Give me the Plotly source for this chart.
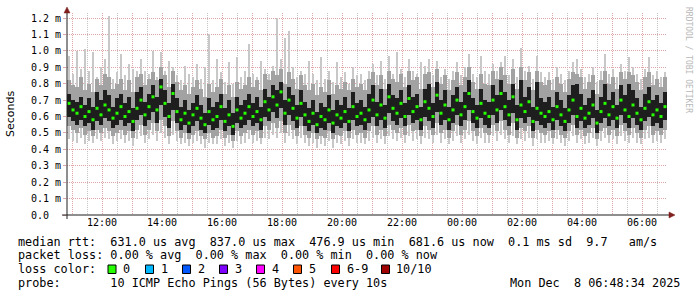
import pandas as pd
import plotly.graph_objects as go

# ---------------- data (values in units of 10 microseconds) ----------------
BIN_START = "2025-12-07 10:50"
BIN_MINUTES = 8

median_10us = [
    68, 64, 62, 66, 60, 63, 58, 65, 61, 67, 64, 59, 62, 66, 60,
    63, 57, 65, 70, 61, 66, 72, 64, 78, 68, 60, 74, 63, 58, 62,
    56, 61, 65, 59, 55, 63, 58, 60, 66, 57, 61, 54, 64, 59, 62,
    66, 60, 63, 58, 69, 64, 72, 67, 75, 62, 70, 65, 59, 68, 61,
    57, 62, 55, 60, 58, 64, 56, 61, 59, 63, 57, 66, 60, 62, 58,
    64, 70, 61, 67, 59, 72, 65, 62, 68, 60, 71, 63, 66, 58, 69,
    65, 60, 73, 62, 67, 58, 64, 70, 61, 66, 74, 63, 59, 68, 62,
    60, 70, 64, 74, 66, 61, 72, 58, 67, 63, 69, 57, 65, 62, 60,
    63, 58, 66, 61, 57, 64, 70, 60, 65, 59, 62, 67, 56, 63, 68,
    61, 66, 59, 70, 64, 60, 67, 62, 58, 65, 69, 61, 64, 60, 66,
]
core_lo_10us = [
    60, 57, 55, 58, 54, 56, 52, 57, 55, 59, 57, 53, 55, 58, 54,
    56, 51, 58, 61, 54, 58, 63, 56, 67, 60, 53, 64, 56, 52, 55,
    50, 54, 57, 52, 50, 55, 52, 53, 58, 51, 54, 49, 56, 53, 55,
    58, 54, 56, 52, 60, 57, 63, 59, 65, 55, 61, 57, 53, 60, 54,
    51, 55, 50, 53, 52, 56, 50, 54, 53, 56, 51, 58, 54, 55, 52,
    56, 60, 54, 58, 53, 62, 57, 55, 59, 54, 61, 56, 58, 52, 60,
    57, 53, 63, 55, 58, 52, 56, 61, 54, 58, 64, 56, 53, 59, 55,
    53, 61, 56, 64, 58, 54, 62, 52, 59, 56, 60, 51, 57, 55, 53,
    56, 52, 58, 54, 51, 56, 61, 53, 57, 53, 55, 59, 50, 56, 59,
    54, 58, 53, 61, 56, 53, 59, 55, 52, 57, 60, 54, 56, 53, 58,
]
core_hi_10us = [
    74, 70, 69, 72, 67, 71, 66, 75, 70, 76, 73, 66, 71, 74, 68,
    72, 65, 75, 78, 69, 74, 79, 72, 83, 76, 68, 80, 71, 66, 70,
    64, 68, 73, 67, 62, 71, 66, 69, 74, 65, 70, 62, 72, 67, 70,
    74, 68, 72, 66, 77, 72, 79, 76, 81, 70, 78, 73, 67, 76, 69,
    65, 70, 63, 68, 66, 73, 64, 70, 67, 72, 65, 75, 68, 70, 66,
    74, 79, 69, 77, 67, 80, 73, 71, 76, 68, 79, 72, 74, 66, 77,
    80, 68, 81, 70, 76, 66, 73, 78, 69, 75, 82, 71, 67, 77, 70,
    69, 79, 73, 82, 75, 70, 80, 67, 82, 72, 78, 66, 81, 71, 69,
    72, 66, 75, 70, 65, 73, 79, 80, 74, 67, 71, 76, 64, 72, 80,
    70, 75, 67, 79, 73, 80, 76, 71, 66, 74, 78, 70, 73, 68, 75,
]
smoke_lo_10us = [
    54, 52, 50, 53, 49, 51, 48, 52, 50, 53, 51, 48, 50, 52, 49,
    51, 47, 52, 55, 49, 52, 56, 51, 58, 54, 48, 57, 51, 47, 50,
    46, 49, 51, 48, 46, 50, 47, 48, 52, 47, 49, 45, 51, 48, 50,
    52, 49, 51, 47, 54, 52, 56, 53, 57, 50, 55, 52, 48, 54, 49,
    47, 50, 46, 48, 47, 51, 46, 49, 48, 51, 47, 52, 49, 50, 47,
    51, 54, 49, 52, 48, 55, 52, 50, 53, 49, 55, 51, 52, 48, 54,
    52, 49, 56, 50, 52, 47, 51, 55, 49, 52, 57, 51, 48, 53, 50,
    49, 55, 51, 57, 52, 49, 56, 47, 53, 51, 54, 47, 52, 50, 49,
    51, 47, 52, 49, 47, 51, 55, 49, 52, 48, 50, 53, 46, 51, 53,
    49, 52, 48, 55, 51, 49, 53, 50, 47, 52, 54, 49, 51, 49, 52,
]
smoke_hi_10us = [
    82, 79, 78, 84, 76, 80, 75, 83, 79, 86, 84, 77, 80, 83, 76,
    82, 75, 84, 86, 79, 83, 87, 82, 90, 85, 78, 88, 81, 76, 79,
    74, 78, 82, 77, 72, 80, 75, 78, 83, 74, 79, 72, 81, 77, 79,
    84, 78, 82, 76, 86, 82, 88, 85, 89, 80, 87, 83, 77, 85, 79,
    76, 80, 73, 78, 75, 82, 74, 79, 77, 81, 76, 83, 78, 80, 76,
    83, 87, 79, 85, 77, 88, 83, 81, 86, 78, 88, 82, 84, 77, 86,
    87, 78, 89, 80, 85, 76, 82, 87, 79, 84, 90, 81, 77, 86, 80,
    79, 88, 83, 90, 85, 80, 89, 77, 90, 82, 87, 76, 88, 81, 79,
    82, 76, 84, 80, 75, 83, 87, 86, 84, 77, 81, 85, 74, 82, 88,
    80, 84, 77, 87, 83, 87, 85, 81, 76, 84, 87, 79, 83, 78, 84,
]
ping_min_10us = [
    46, 45, 44, 47, 43, 45, 44, 46, 45, 47, 46, 43, 45, 46, 44,
    45, 42, 46, 48, 44, 46, 49, 45, 50, 47, 43, 49, 45, 43, 44,
    42, 44, 45, 43, 41, 44, 43, 43, 46, 42, 44, 41, 45, 43, 44,
    46, 44, 45, 43, 47, 46, 49, 47, 50, 44, 48, 46, 43, 47, 44,
    42, 44, 41, 43, 42, 45, 41, 44, 43, 45, 42, 46, 44, 44, 43,
    45, 47, 44, 46, 43, 48, 46, 45, 47, 44, 48, 45, 46, 43, 47,
    46, 44, 49, 44, 46, 43, 45, 48, 44, 46, 49, 45, 43, 47, 44,
    44, 48, 45, 49, 46, 44, 48, 43, 46, 45, 47, 42, 46, 44, 44,
    45, 43, 46, 44, 42, 45, 48, 44, 46, 43, 44, 47, 42, 45, 47,
    44, 46, 43, 48, 45, 44, 47, 44, 43, 46, 47, 44, 45, 44, 46,
]
ping_max_10us = [
    97, 86, 100, 89, 101, 88, 99, 84, 90, 95, 121, 83, 87, 98, 85,
    92, 89, 88, 95, 88, 86, 100, 84, 99, 88, 94, 90, 85, 82, 91,
    86, 84, 92, 83, 90, 110, 82, 95, 87, 81, 93, 80, 96, 84, 88,
    104, 86, 84, 94, 89, 86, 91, 120, 95, 108, 112, 90, 84, 88, 86,
    94, 86, 82, 96, 83, 88, 81, 93, 84, 87, 80, 90, 85, 86, 82,
    88, 92, 85, 94, 83, 97, 86, 99, 89, 84, 95, 88, 86, 93, 91,
    95, 85, 94, 84, 89, 83, 88, 93, 85, 90, 98, 86, 84, 97, 88,
    86, 92, 88, 93, 97, 85, 95, 84, 102, 88, 91, 83, 97, 87, 84,
    87, 83, 90, 86, 82, 88, 93, 95, 89, 84, 86, 90, 81, 88, 98,
    86, 89, 84, 92, 88, 96, 90, 86, 83, 89, 96, 85, 88, 84, 87,
]

y_tick_ms = [0.0, 0.1, 0.2, 0.3, 0.4, 0.5, 0.6, 0.7, 0.8, 0.9, 1.0, 1.1, 1.2]
y_tick_text = ["0.0\u00a0\u00a0", "0.1 m", "0.2 m", "0.3 m", "0.4 m", "0.5 m", "0.6 m",
               "0.7 m", "0.8 m", "0.9 m", "1.0 m", "1.1 m", "1.2 m"]

loss_labels = ["0", "1", "2", "3", "4", "5", "6-9", "10/10"]
loss_colors = ["#26ff00", "#00b8ff", "#0059ff", "#7e00ff", "#ff00ff", "#ff5500", "#ff0000", "#a10000"]

legend_lines = [
    "median rtt:  631.0 us avg  837.0 us max  476.9 us min  681.6 us now  0.1 ms sd  9.7   am/s",
    "packet loss: 0.00 % avg  0.00 % max  0.00 % min  0.00 % now",
    "loss color:",
    "probe:       10 ICMP Echo Pings (56 Bytes) every 10s",
]
stamp_text = "Mon Dec  8 06:48:34 2025"

# ---------------- layout helpers ----------------
W, H = 697, 297
L, R, T, B = 67, 30, 13, 82
PW, PH = W - L - R, H - T - B


def px_x(px):
    return (px - L) / PW


def px_y(py):
    return (H - B - py) / PH


def nb(s):
    return s.replace(" ", "\u00a0")


MONO = "DejaVu Sans Mono"

n = len(median_10us)
t0 = pd.Timestamp(BIN_START)
bin_centers = pd.date_range(t0 + pd.Timedelta(minutes=BIN_MINUTES / 2), periods=n,
                            freq=f"{BIN_MINUTES}min")
bin_ms = BIN_MINUTES * 60 * 1000


def band(lo, hi, color, frac):
    return go.Bar(
        x=bin_centers,
        y=[(h - l) / 100 for l, h in zip(lo, hi)],
        base=[l / 100 for l in lo],
        width=bin_ms * frac,
        marker=dict(color=color, line=dict(width=0)),
        hoverinfo="skip",
        showlegend=False,
    )


fig = go.Figure()
fig.add_trace(band(ping_min_10us, ping_max_10us, "#c8c8c8", 0.5))
fig.add_trace(band(smoke_lo_10us, smoke_hi_10us, "#a2a2a2", 1.0))
fig.add_trace(band(core_lo_10us, core_hi_10us, "#1e1e1e", 1.0))
fig.add_trace(go.Scatter(
    x=bin_centers, y=[m / 100 for m in median_10us], mode="markers",
    marker=dict(symbol="square", size=3, color="#26ff00", line=dict(width=0)),
    hoverinfo="skip", showlegend=False,
))

hour_ticks = pd.date_range("2025-12-07 11:00", "2025-12-08 06:00", freq="1h")
hour_text = [t.strftime("%H:%M") if t.hour % 2 == 0 else "" for t in hour_ticks]
half_ticks = pd.date_range("2025-12-07 11:30", "2025-12-08 06:30", freq="1h")

MGRID = "#e1a6a6"
GRID = "#c4c4c4"

fig.update_layout(
    width=W, height=H,
    margin=dict(l=L, r=R, t=T, b=B, pad=0),
    paper_bgcolor="#ffffff", plot_bgcolor="#ffffff",
    barmode="overlay", bargap=0,
    showlegend=False,
    xaxis=dict(
        type="date",
        range=[t0, t0 + pd.Timedelta(hours=20)],
        tickmode="array", tickvals=hour_ticks, ticktext=hour_text,
        showgrid=True, gridcolor=MGRID, griddash="1px,1px", gridwidth=1,
        minor=dict(tickmode="array", tickvals=half_ticks, showgrid=True,
                   gridcolor=GRID, griddash="1px,1px", gridwidth=1),
        ticks="", showline=False, zeroline=False,
        tickfont=dict(family=MONO, size=10, color="#000000"),
        fixedrange=True,
    ),
    yaxis=dict(
        range=[0, 1.2305],
        tickmode="array", tickvals=y_tick_ms, ticktext=y_tick_text,
        showgrid=True, gridcolor=MGRID, griddash="1px,1px", gridwidth=1,
        ticks="outside", ticklen=3, tickcolor=MGRID,
        showline=False, zeroline=False,
        tickfont=dict(family=MONO, size=10, color="#000000"),
        fixedrange=True,
    ),
)

shapes = []
AXIS = "#1f1f1f"
ARROW = "#801f1f"
# axis lines
shapes.append(dict(type="line", xref="paper", yref="paper", x0=px_x(67), x1=px_x(67),
                   y0=px_y(219), y1=px_y(12), line=dict(color=AXIS, width=1), layer="above"))
shapes.append(dict(type="line", xref="paper", yref="paper", x0=px_x(62), x1=px_x(669),
                   y0=px_y(215), y1=px_y(215), line=dict(color=AXIS, width=1), layer="above"))
# arrows
shapes.append(dict(type="path", xref="paper", yref="paper", layer="above",
                   path=f"M {px_x(67)},{px_y(7)} L {px_x(64)},{px_y(13)} L {px_x(70)},{px_y(13)} Z",
                   fillcolor=ARROW, line=dict(color=ARROW, width=0.5)))
shapes.append(dict(type="path", xref="paper", yref="paper", layer="above",
                   path=f"M {px_x(675)},{px_y(215)} L {px_x(669)},{px_y(212)} L {px_x(669)},{px_y(218)} Z",
                   fillcolor=ARROW, line=dict(color=ARROW, width=0.5)))

annotations = []
annotations.append(dict(text="Seconds", xref="paper", yref="paper", x=px_x(10), y=px_y(114),
                        xanchor="center", yanchor="middle", textangle=-90, showarrow=False,
                        font=dict(family="DejaVu Sans", size=11, color="#000000")))
annotations.append(dict(text=nb("RRDTOOL / TOBI OETIKER"), xref="paper", yref="paper",
                        x=px_x(688), y=px_y(5), xanchor="center", yanchor="top", textangle=90,
                        showarrow=False, font=dict(family=MONO, size=8, color="#b8b8b8")))

line_y = [241.7, 255.2, 269.0, 282.8]
for txt, yy in zip(legend_lines, line_y):
    annotations.append(dict(text=nb(txt), xref="paper", yref="paper", x=px_x(16), y=px_y(yy),
                            xanchor="left", yanchor="middle", showarrow=False,
                            font=dict(family=MONO, size=11.8, color="#000000")))
annotations.append(dict(text=nb(stamp_text), xref="paper", yref="paper", x=px_x(682), y=px_y(282.8),
                        xanchor="right", yanchor="middle", showarrow=False,
                        font=dict(family=MONO, size=11.8, color="#000000")))

box_px = [108, 145.5, 182.5, 219.5, 256.5, 293.5, 331.5, 381.5]
for bx, lab, col in zip(box_px, loss_labels, loss_colors):
    shapes.append(dict(type="rect", xref="paper", yref="paper", layer="above",
                       x0=px_x(bx), x1=px_x(bx + 8), y0=px_y(273.5), y1=px_y(265),
                       fillcolor=col, line=dict(color="#000000", width=1)))
    annotations.append(dict(text=lab, xref="paper", yref="paper", x=px_x(bx + 13), y=px_y(269.0),
                            xanchor="left", yanchor="middle", showarrow=False,
                            font=dict(family=MONO, size=11.8, color="#000000")))

fig.update_layout(shapes=shapes, annotations=annotations)
fig.write_html("out.html")
